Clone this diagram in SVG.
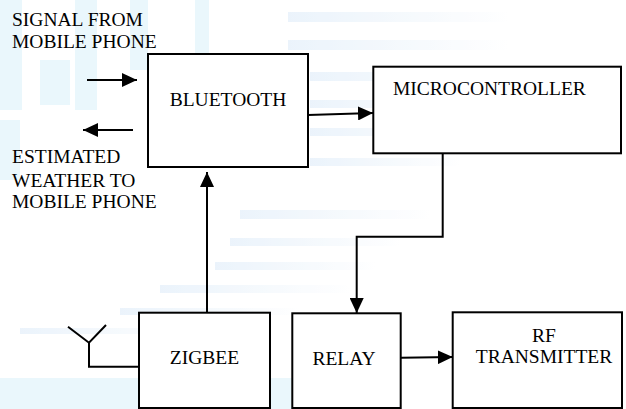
<svg xmlns="http://www.w3.org/2000/svg" width="626" height="409" viewBox="0 0 626 409">
<defs>
<style>
.box{fill:#fff;stroke:#000;stroke-width:2}
text{font-family:'Liberation Serif','Times New Roman','DejaVu Serif',serif;font-size:19.5px;fill:#000}
.c{text-anchor:middle}
.ln{fill:none;stroke:#000;stroke-width:2}
.wm{fill:#e2f4fb}
</style>
<marker id="ah" viewBox="0 0 15 14" refX="15" refY="7" markerWidth="15" markerHeight="14" markerUnits="userSpaceOnUse" orient="auto">
<path d="M0,0 L15,7 L0,14 Z" fill="#000"/>
</marker>
<linearGradient id="fadeR" x1="0" x2="1" y1="0" y2="0">
<stop offset="0" stop-color="#dcebf9" stop-opacity="0.8"/>
<stop offset="1" stop-color="#dcebf9" stop-opacity="0"/>
</linearGradient>
</defs>
<rect width="626" height="409" fill="#fff"/>
<g id="watermark" opacity="0.7">
<rect class="wm" x="0" y="0" width="22" height="110"/>
<rect class="wm" x="40" y="60" width="30" height="45"/>
<rect class="wm" x="75" y="0" width="22" height="110"/>
<rect class="wm" x="130" y="0" width="18" height="70"/>
<rect class="wm" x="195" y="0" width="14" height="60"/>
<rect class="wm" x="0" y="120" width="20" height="60"/>
<rect x="288" y="12" width="220" height="10" fill="url(#fadeR)"/>
<rect x="288" y="40" width="220" height="10" fill="url(#fadeR)"/>
<rect x="310" y="72" width="200" height="9" fill="url(#fadeR)"/>
<rect x="310" y="100" width="160" height="8" fill="url(#fadeR)"/>
<rect x="310" y="128" width="160" height="8" fill="url(#fadeR)"/>
<rect x="310" y="158" width="150" height="8" fill="url(#fadeR)"/>
<rect x="240" y="210" width="190" height="9" fill="url(#fadeR)"/>
<rect x="230" y="238" width="170" height="8" fill="url(#fadeR)"/>
<rect x="215" y="262" width="160" height="8" fill="url(#fadeR)"/>
<rect x="160" y="285" width="190" height="8" fill="url(#fadeR)"/>
<rect x="120" y="308" width="180" height="7" fill="url(#fadeR)"/>
<rect x="20" y="328" width="180" height="6" fill="url(#fadeR)"/>
<rect class="wm" x="0" y="378" width="300" height="31"/>
</g>
<g id="connectors">
<line class="ln" x1="87" y1="80" x2="137" y2="80" marker-end="url(#ah)"/>
<line class="ln" x1="133" y1="130" x2="83" y2="130" marker-end="url(#ah)"/>
<line class="ln" x1="308" y1="115" x2="373" y2="113" marker-end="url(#ah)"/>
<line class="ln" x1="207" y1="313" x2="207" y2="172" marker-end="url(#ah)"/>
<polyline class="ln" points="442.7,153 442.7,236.7 356.7,236.7 356.7,313" marker-end="url(#ah)"/>
<line class="ln" x1="401" y1="357.7" x2="452.7" y2="357" marker-end="url(#ah)"/>
<polyline class="ln" points="139,366.7 89,366.7 89,342.7"/>
<polyline class="ln" points="68,326.7 89,342.7 106,325"/>
</g>
<g id="signal-label">
<text x="12" y="25.5" font-family="Liberation Serif, serif">SIGNAL FROM</text>
<text x="12" y="47.5" font-family="Liberation Serif, serif">MOBILE PHONE</text>
</g>
<g id="weather-label">
<text x="12" y="163.3" font-family="Liberation Serif, serif">ESTIMATED</text>
<text x="12" y="186.5" font-family="Liberation Serif, serif">WEATHER TO</text>
<text x="12" y="208.3" font-family="Liberation Serif, serif">MOBILE PHONE</text>
</g>
<g id="bluetooth">
<rect class="box" x="148" y="54" width="160" height="113"/>
<text class="c" x="228" y="106" font-family="Liberation Serif, serif">BLUETOOTH</text>
</g>
<g id="microcontroller">
<rect class="box" x="373.3" y="66.7" width="247.7" height="86.6"/>
<text x="393" y="95" font-family="Liberation Serif, serif">MICROCONTROLLER</text>
</g>
<g id="zigbee">
<rect class="box" x="139" y="312.7" width="131" height="95.3"/>
<text class="c" x="204.5" y="364.3" font-family="Liberation Serif, serif">ZIGBEE</text>
</g>
<g id="relay">
<rect class="box" x="292.3" y="313.3" width="108.4" height="94.7"/>
<text class="c" x="344" y="365" font-family="Liberation Serif, serif">RELAY</text>
</g>
<g id="rf-transmitter">
<rect class="box" x="452.7" y="312.3" width="169.3" height="95.7"/>
<text class="c" x="544" y="341.7" font-family="Liberation Serif, serif">RF</text>
<text class="c" x="544" y="363.3" font-family="Liberation Serif, serif">TRANSMITTER</text>
</g>
</svg>
